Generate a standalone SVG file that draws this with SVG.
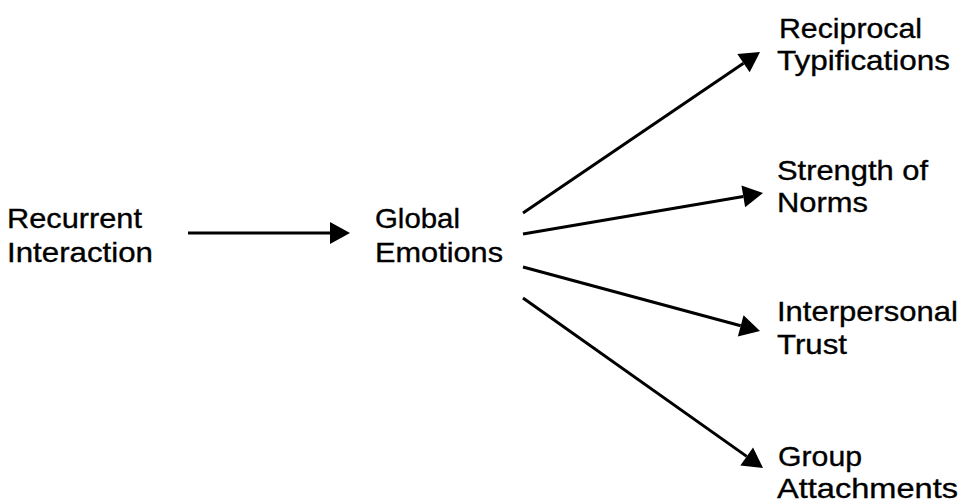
<svg xmlns="http://www.w3.org/2000/svg" width="968" height="504" viewBox="0 0 968 504">
<style>
text{font-family:"Liberation Sans",Arial,sans-serif;font-size:28.5px;fill:#000;stroke:#000;stroke-width:0.35px}
.c{stroke:#000;stroke-width:3;fill:none}
</style>
<defs>
<marker id="ah" markerUnits="userSpaceOnUse" markerWidth="22" markerHeight="24" refX="0" refY="11" orient="auto" overflow="visible">
<path d="M0,0 L20,11 L0,22 Z" fill="#000"/>
</marker>
</defs>
<rect width="968" height="504" fill="#fff"/>
<g id="recurrent">
<text x="7" y="228" textLength="135" lengthAdjust="spacingAndGlyphs">Recurrent</text>
<text x="7" y="262" textLength="146" lengthAdjust="spacingAndGlyphs">Interaction</text>
</g>
<g id="global">
<text x="375" y="228" textLength="85" lengthAdjust="spacingAndGlyphs">Global</text>
<text x="375" y="262" textLength="128" lengthAdjust="spacingAndGlyphs">Emotions</text>
</g>
<g id="reciprocal">
<text x="779" y="38" textLength="143" lengthAdjust="spacingAndGlyphs">Reciprocal</text>
<text x="777" y="70" textLength="173" lengthAdjust="spacingAndGlyphs">Typifications</text>
</g>
<g id="strength">
<text x="777" y="180" textLength="151" lengthAdjust="spacingAndGlyphs">Strength of</text>
<text x="777" y="212" textLength="91" lengthAdjust="spacingAndGlyphs">Norms</text>
</g>
<g id="trust">
<text x="777" y="321" textLength="181" lengthAdjust="spacingAndGlyphs">Interpersonal</text>
<text x="777" y="354" textLength="70" lengthAdjust="spacingAndGlyphs">Trust</text>
</g>
<g id="group">
<text x="778" y="466" textLength="84" lengthAdjust="spacingAndGlyphs">Group</text>
<text x="777" y="498" textLength="181" lengthAdjust="spacingAndGlyphs">Attachments</text>
</g>
<g id="connectors">
<line class="c" x1="188" y1="233" x2="330" y2="233" marker-end="url(#ah)"/>
<line class="c" x1="523" y1="213" x2="743.5" y2="63.2" marker-end="url(#ah)"/>
<line class="c" x1="523" y1="234" x2="743.3" y2="196.4" marker-end="url(#ah)"/>
<line class="c" x1="523" y1="267" x2="740.7" y2="325.8" marker-end="url(#ah)"/>
<line class="c" x1="523" y1="298" x2="746.7" y2="456.4" marker-end="url(#ah)"/>
</g>
</svg>
